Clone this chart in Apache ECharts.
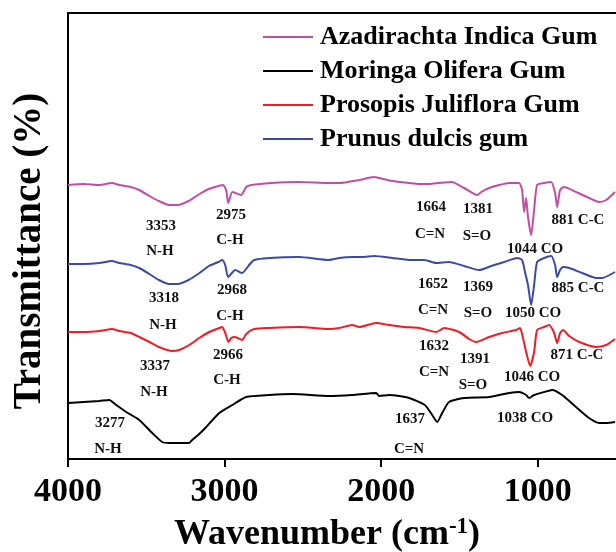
<!DOCTYPE html>
<html><head><meta charset="utf-8">
<script src="https://cdn.jsdelivr.net/npm/echarts@6/dist/echarts.min.js"></script>
<style>html,body{margin:0;padding:0;background:#fff}#c{width:616px;height:552px}</style>
</head><body><div id="c"></div>
<script>
// Wavenumber (cm-1) and transmittance (arbitrary offset units)
var azadWn = [4000,3900,3800,3720,3673,3600,3545,3480,3420,3354,3300,3230,3160,3100,3040,3010,2990,2977,2950,2894,2862,2830,2700,2524,2332,2268,2140,2045,2013,1928,1821,1757,1693,1629,1549,1470,1387,1361,1310,1246,1182,1119,1100,1087,1074,1062,1042,1023,1004,959,914,889,876,857,831,755,672,608,563,506];
var azadT  = [282,283,282,284,282,280,277,271,266,262,262,266,273,278,281,282,277,264,275,272,280,282,284,285,284,284,287,290,289,286,284,283,283,284,285,279,272,275,279,282,284,284,277,255,269,250,232,257,282,284,285,274,260,277,280,275,269,265,267,275];

var prunWn = [4000,3900,3800,3720,3673,3600,3545,3480,3420,3354,3300,3230,3160,3100,3040,3015,2996,2977,2932,2888,2843,2811,2715,2524,2332,2268,2185,2120,2045,1928,1821,1725,1648,1566,1470,1374,1297,1214,1131,1100,1080,1062,1042,1023,1004,959,914,889,876,857,838,799,716,627,589,506];
var prunT  = [203,203,204,206,204,202,199,193,187,183,183,187,194,201,205,207,202,190,197,194,202,207,209,210,207,209,210,210,211,209,207,207,204,205,201,197,201,205,209,207,194,182,162,182,205,209,211,202,190,197,200,199,194,189,189,195];

var prosWn = [4000,3900,3800,3718,3673,3600,3545,3480,3420,3335,3290,3226,3162,3098,3034,3015,2996,2975,2958,2932,2888,2862,2811,2715,2524,2332,2268,2185,2140,2032,1949,1853,1757,1648,1597,1502,1438,1393,1310,1227,1138,1113,1094,1074,1048,1023,1004,959,927,895,876,857,838,799,735,627,563,506];
var prosT  = [135,135,136,138,136,134,130,125,120,116,117,122,129,135,139,140,134,125,129,130,127,133,138,139,140,138,139,142,140,144,142,140,139,135,139,135,128,125,130,134,137,139,129,115,101,115,137,140,142,134,124,134,137,131,125,120,122,128];

var morWn = [4000,3900,3800,3737,3692,3628,3545,3462,3398,3354,3290,3226,3207,3162,3117,3034,2951,2862,2715,2568,2332,2185,2032,2013,1949,1821,1721,1674,1642,1610,1566,1470,1310,1182,1119,1074,1055,1023,959,908,844,755,672,608,563,506];
var morT  = [64,65,66,67,62,55,47,34,25,24,24,24,27,33,40,54,62,70,72,73,71,72,74,71,72,69,62,52,45,54,65,69,70,74,75,72,69,72,75,77,72,60,49,44,44,45];

var seriesNames = ['Azadirachta Indica Gum','Moringa Olifera Gum','Prosopis Juliflora Gum','Prunus dulcis gum'];
var xTicks = [4000,3000,2000,1000];

// Peak annotations: text and label centre (pixels)
var annText = ['3353','N-H','2975','C-H','3318','N-H','2968','C-H','3337','N-H','2966','C-H','3277','N-H',
  '1664','C=N','1381','S=O','1044 CO','881 C-C','1652','1369','885 C-C','C=N','S=O','1050 CO',
  '1632','1391','C=N','S=O','1046 CO','871 C-C','1637','1038 CO','C=N'];
var annX = [161,160,231,230,164,163,232,230,155,154,228,227,110,108,
  431,430,478,477,535,578,433,478,578,433,478,533,
  434,475,434,473,532,577,410,525,409];
var annY = [226,251,215,240,298,325,290,316,366,392,355,380,423,449,
  207,234,209,236,249,220,284,287,288,310,313,313,
  346,359,372,385,377,355,419,418,449];

function pairs(a,b){return a.map(function(v,i){return [v,b[i]];});}
var FONT = '"Liberation Serif","Times New Roman",serif';
var colors = ['#c04ea6','#000000','#ee1c24','#3a4aa6'];
var allData = [pairs(azadWn,azadT), pairs(morWn,morT), pairs(prosWn,prosT), pairs(prunWn,prunT)];

var chart = echarts.init(document.getElementById('c'), null, {renderer:'canvas'});
var graphics = annText.map(function(t,i){
  return {type:'text', x:annX[i], y:annY[i], z:10,
    style:{text:t, font:'bold 15px '+FONT, fill:'#111', textAlign:'center', textVerticalAlign:'middle'}};
});
graphics.push({type:'text', x:30, y:251, rotation:Math.PI/2, z:10,
  style:{text:'Transmittance (%)', font:'bold 39px '+FONT, fill:'#000', textAlign:'center', textVerticalAlign:'middle'}});
chart.setOption({
  animation:false,
  backgroundColor:'#fff',
  grid:{left:68, right:0, top:13, bottom:93, containLabel:false, outerBoundsMode:'none'},
  legend:{
    orient:'vertical', left:258, top:19, icon:'rect', itemWidth:50, itemHeight:2, itemGap:8,
    data:seriesNames,
    textStyle:{fontFamily:FONT, fontWeight:'bold', fontSize:26, color:'#000', lineHeight:26, padding:[0,0,0,2]}
  },
  xAxis:[{
    type:'value', inverse:true, min:500, max:4000, interval:1000,
    axisLine:{show:true, onZero:false, lineStyle:{color:'#000', width:2}},
    axisTick:{show:true, length:8, inside:false, lineStyle:{color:'#000', width:2},
      customValues: xTicks},
    axisLabel:{show:true, margin:16, fontFamily:FONT, fontWeight:'bold', fontSize:34, color:'#000',
      customValues: xTicks, formatter:function(v){return String(v);}},
    splitLine:{show:false},
    name:'{a|Wavenumber (cm}{s|-1}{a|)}', nameLocation:'middle', nameGap:57,
    nameTextStyle:{padding:[0,30,0,0], rich:{
      a:{fontFamily:FONT, fontWeight:'bold', fontSize:36, color:'#000', lineHeight:38},
      s:{fontFamily:FONT, fontWeight:'bold', fontSize:23, color:'#000', verticalAlign:'top', lineHeight:23}
    }}
  },{
    type:'value', position:'top', inverse:true, min:500, max:4000,
    axisLine:{show:true, onZero:false, lineStyle:{color:'#000', width:2}},
    axisTick:{show:false}, axisLabel:{show:false}, splitLine:{show:false}
  }],
  yAxis:{
    type:'value', min:8, max:454,
    axisLine:{show:true, onZero:false, lineStyle:{color:'#000', width:2}},
    axisTick:{show:false}, axisLabel:{show:false}, splitLine:{show:false}
  },
  series: seriesNames.map(function(n,i){
    return {name:n, type:'line', data:allData[i], xAxisIndex:0, showSymbol:false, symbol:'none',
      smooth:0.2, lineStyle:{color:colors[i], width:2}, itemStyle:{color:colors[i]}};
  }),
  graphic: graphics
});
</script></body></html>
